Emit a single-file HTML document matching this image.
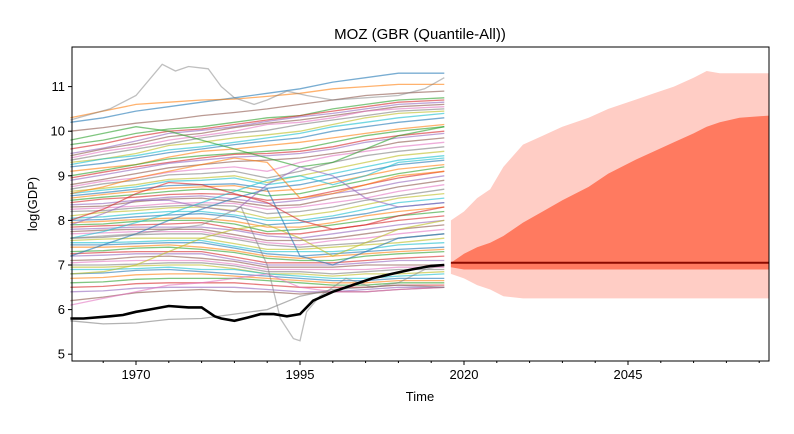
<!DOCTYPE html>
<html><head><meta charset="utf-8"><style>
body{margin:0;background:#fff;font-family:"Liberation Sans",sans-serif}
svg text{font-family:"Liberation Sans","DejaVu Sans",sans-serif}
</style></head><body>
<svg id="chart" width="794" height="429" xmlns="http://www.w3.org/2000/svg">
<rect width="794" height="429" fill="#fff"/>
<text x="420" y="39" font-size="15" text-anchor="middle">MOZ (GBR (Quantile-All))</text>
<g id="bg"></g>
<g id="fc"></g>
<g id="axes"></g>
<text x="420" y="401" font-size="13" text-anchor="middle">Time</text>
<text transform="translate(37,204) rotate(-90)" font-size="13" text-anchor="middle">log(GDP)</text>
</svg>
<script>
const histYears=[1960,1965,1970,1975,1980,1985,1990,1995,2000,2005,2010,2017];
const peerSeries=[
[10.2,10.3,10.45,10.55,10.65,10.75,10.85,10.95,11.1,11.2,11.3,11.3],
[10.3,10.45,10.6,10.65,10.7,10.72,10.78,10.85,10.95,11.0,11.05,11.05],
[9.7,9.8,9.95,10.05,10.1,10.2,10.3,10.35,10.5,10.6,10.7,10.75],
[9.6,9.72,9.88,10.0,10.05,10.15,10.25,10.35,10.45,10.55,10.65,10.7],
[9.5,9.62,9.78,9.95,10.02,10.1,10.22,10.32,10.4,10.5,10.6,10.65],
[9.45,9.6,9.72,9.88,9.95,10.08,10.18,10.25,10.35,10.45,10.55,10.6],
[9.4,9.55,9.65,9.8,9.9,10.0,10.15,10.2,10.3,10.45,10.5,10.55],
[9.35,9.48,9.6,9.72,9.85,9.95,10.02,10.15,10.25,10.35,10.45,10.5],
[9.3,9.38,9.5,9.68,9.75,9.85,9.92,10.0,10.15,10.3,10.4,10.45],
[9.25,9.38,9.45,9.58,9.65,9.75,9.85,9.95,10.1,10.2,10.3,10.4],
[9.2,9.28,9.4,9.52,9.6,9.7,9.78,9.85,10.0,10.1,10.2,10.3],
[9.1,9.18,9.25,9.42,9.55,9.6,9.68,9.75,9.85,9.95,10.05,10.15],
[9.0,9.12,9.25,9.38,9.45,9.5,9.55,9.6,9.75,9.9,10.0,10.1],
[8.95,9.08,9.2,9.3,9.4,9.48,9.5,9.55,9.65,9.8,9.9,10.0],
[8.9,9.02,9.15,9.28,9.35,9.42,9.45,9.5,9.6,9.75,9.85,9.95],
[8.8,8.92,9.05,9.18,9.25,9.32,9.35,9.4,9.5,9.6,9.75,9.85],
[8.75,8.88,8.95,9.08,9.15,9.2,9.1,9.3,9.45,9.55,9.65,9.75],
[8.7,8.82,8.9,9.02,9.05,9.1,8.95,9.1,9.3,9.45,9.55,9.65],
[8.65,8.72,8.8,8.92,8.95,9.0,8.85,9.0,9.15,9.3,9.45,9.55],
[8.6,8.68,8.75,8.88,8.9,8.95,8.8,8.9,9.05,9.2,9.35,9.45],
[8.55,8.62,8.7,8.78,8.8,8.82,8.72,8.8,8.95,9.1,9.25,9.35],
[8.5,8.58,8.65,8.72,8.75,8.78,8.65,8.7,8.85,9.0,9.15,9.25],
[8.45,8.52,8.58,8.65,8.7,8.68,8.55,8.6,8.75,8.9,9.05,9.2],
[8.4,8.48,8.52,8.58,8.6,8.58,8.45,8.5,8.65,8.8,8.95,9.1],
[8.35,8.38,8.45,8.52,8.55,8.48,8.38,8.45,8.6,8.7,8.85,9.0],
[8.3,8.32,8.42,8.48,8.5,8.42,8.32,8.35,8.5,8.6,8.75,8.9],
[8.25,8.28,8.32,8.38,8.4,8.38,8.25,8.3,8.4,8.5,8.65,8.8],
[8.2,8.22,8.28,8.32,8.35,8.32,8.15,8.2,8.3,8.45,8.55,8.7],
[8.1,8.18,8.22,8.28,8.3,8.22,8.05,8.1,8.2,8.35,8.5,8.6],
[8.05,8.08,8.15,8.2,8.2,8.12,8.0,8.0,8.1,8.25,8.4,8.5],
[8.0,8.02,8.08,8.12,8.15,8.08,7.9,7.95,8.05,8.15,8.3,8.4],
[7.95,7.98,8.02,8.05,8.05,7.98,7.85,7.85,7.95,8.1,8.2,8.3],
[7.9,7.92,7.98,8.0,8.0,7.92,7.75,7.8,7.9,8.0,8.1,8.2],
[7.85,7.88,7.9,7.92,7.95,7.82,7.7,7.7,7.8,7.9,8.0,8.1],
[7.8,7.82,7.85,7.85,7.85,7.78,7.65,7.6,7.7,7.8,7.9,8.0],
[7.75,7.78,7.8,7.8,7.8,7.68,7.55,7.55,7.6,7.7,7.8,7.9],
[7.7,7.72,7.75,7.75,7.75,7.62,7.5,7.45,7.55,7.6,7.7,7.8],
[7.6,7.62,7.68,7.7,7.7,7.58,7.45,7.4,7.45,7.5,7.6,7.7],
[7.55,7.58,7.6,7.6,7.6,7.48,7.35,7.35,7.4,7.45,7.5,7.6],
[7.5,7.5,7.52,7.55,7.55,7.42,7.3,7.3,7.3,7.35,7.45,7.5],
[7.45,7.45,7.48,7.5,7.5,7.38,7.25,7.2,7.25,7.3,7.35,7.4],
[7.4,7.4,7.42,7.45,7.4,7.32,7.2,7.15,7.2,7.25,7.3,7.35],
[7.3,7.32,7.38,7.4,7.35,7.28,7.15,7.1,7.1,7.2,7.25,7.3],
[7.25,7.28,7.3,7.3,7.3,7.18,7.05,7.05,7.05,7.1,7.15,7.2],
[7.2,7.22,7.25,7.25,7.25,7.12,7.0,7.0,7.0,7.05,7.1,7.1],
[7.1,7.12,7.18,7.2,7.15,7.08,6.95,6.95,6.95,7.0,7.0,7.0],
[7.05,7.08,7.1,7.1,7.1,7.02,6.9,6.9,6.9,6.9,6.95,6.95],
[7.0,7.0,7.02,7.05,7.05,6.98,6.85,6.85,6.8,6.85,6.9,6.9],
[6.95,6.95,6.98,7.0,7.0,6.92,6.8,6.8,6.75,6.8,6.8,6.85],
[6.9,6.9,6.92,6.95,6.9,6.9,6.8,6.75,6.7,6.7,6.75,6.8],
[6.8,6.82,6.88,6.9,6.85,6.8,6.75,6.7,6.65,6.65,6.7,6.7],
[6.7,6.72,6.78,6.8,6.8,6.75,6.7,6.65,6.6,6.6,6.65,6.65],
[6.6,6.62,6.68,6.7,6.7,6.7,6.65,6.6,6.55,6.55,6.6,6.6],
[6.5,6.52,6.58,6.6,6.6,6.6,6.55,6.5,6.5,6.5,6.55,6.55],
[6.4,6.42,6.48,6.5,6.5,6.5,6.45,6.4,6.4,6.45,6.5,6.5],
[6.2,6.28,6.38,6.42,6.45,6.4,6.4,6.35,6.4,6.4,6.45,6.5],
[6.1,6.25,6.4,6.55,6.6,6.7,6.8,6.5,6.4,6.4,6.45,6.5],
[5.75,5.68,5.7,5.78,5.8,5.9,6.0,6.3,6.45,6.5,6.55,6.5],
[6.8,6.85,7.0,7.3,7.6,7.8,7.9,7.6,7.2,7.5,7.8,8.0],
[7.6,7.75,7.95,8.15,8.4,8.65,8.9,9.0,8.8,9.0,9.3,9.4],
[7.2,7.45,7.7,8.0,8.25,8.5,8.7,7.2,7.0,7.3,7.6,7.7],
[8.6,8.75,8.95,9.1,9.25,9.4,9.3,8.5,8.6,8.8,9.0,9.1],
[9.8,9.95,10.1,10.0,9.8,9.6,9.4,9.2,9.3,9.6,9.9,10.1],
[8.0,8.25,8.6,8.85,8.8,8.6,8.4,8.0,7.8,7.9,8.1,8.3],
[7.9,8.15,8.45,8.45,8.3,8.2,8.8,9.2,9.0,8.5,8.3,8.4],
[10.0,10.08,10.18,10.25,10.35,10.42,10.5,10.6,10.7,10.8,10.85,10.9]
];
const grayHighYears=[1960,1966,1970,1974,1976,1978,1981,1983,1985,1988,1990,1993,1996,2000,2005,2010,2014,2017];
const grayHigh=[10.25,10.5,10.8,11.5,11.35,11.45,11.4,11.0,10.75,10.6,10.7,10.9,10.8,10.7,10.75,10.8,10.95,11.2];
const grayDipYears=[1960,1970,1980,1986,1990,1992,1994,1995,1996,1998,2002,2006,2010,2014,2017];
const grayDip=[7.6,7.7,7.9,8.3,7.0,5.8,5.35,5.3,5.95,6.3,6.7,6.5,6.6,6.9,7.0];
const mozYears=[1960,1962,1966,1968,1970,1972,1975,1978,1980,1982,1983,1985,1987,1989,1991,1993,1995,1997,2000,2003,2006,2009,2012,2015,2017];
const mozValues=[5.8,5.8,5.85,5.88,5.95,6.0,6.08,6.05,6.05,5.85,5.8,5.75,5.82,5.9,5.9,5.85,5.9,6.2,6.4,6.55,6.7,6.8,6.9,6.98,7.0];
const fcYears=[2018,2020,2022,2024,2026,2029,2032,2035,2039,2042,2046,2049,2052,2055,2057,2059,2062,2067];
const outerUpper=[8.0,8.2,8.5,8.7,9.2,9.7,9.9,10.1,10.3,10.5,10.7,10.85,11.0,11.2,11.35,11.3,11.3,11.3];
const outerLower=[6.8,6.7,6.55,6.45,6.3,6.25,6.25,6.25,6.25,6.25,6.25,6.25,6.25,6.25,6.25,6.25,6.25,6.25];
const innerUpper=[7.05,7.25,7.4,7.5,7.65,7.95,8.2,8.45,8.75,9.05,9.35,9.55,9.75,9.95,10.1,10.2,10.3,10.35];
const innerLower=[6.95,6.9,6.9,6.9,6.9,6.9,6.9,6.9,6.9,6.9,6.9,6.9,6.9,6.9,6.9,6.9,6.9,6.9];
const median=[7.05,7.05,7.05,7.05,7.05,7.05,7.05,7.05,7.05,7.05,7.05,7.05,7.05,7.05,7.05,7.05,7.05,7.05];
const yTicks=[5,6,7,8,9,10,11];
const xTicks=[1970,1995,2020,2045];
const colors=["#1f77b4","#ff7f0e","#2ca02c","#d62728","#9467bd","#8c564b","#e377c2","#7f7f7f","#bcbd22","#17becf"];
const NS="http://www.w3.org/2000/svg";
const L=72,R=769,T=47,B=361;
const xs=y=>Math.min(R,136+(y-1970)*6.56);
const ys=v=>265-(v-7)*44.6;
function mk(tag,attrs,parent){const e=document.createElementNS(NS,tag);for(const k in attrs)e.setAttribute(k,attrs[k]);parent.appendChild(e);return e;}
function pts(years,vals){return years.map((y,i)=>xs(y).toFixed(1)+","+ys(vals[i]).toFixed(1)).join(" ");}
const bg=document.getElementById("bg"),fc=document.getElementById("fc"),ax=document.getElementById("axes");
peerSeries.forEach((s,i)=>{
  const p=mk("polyline",{points:pts(histYears,s),fill:"none",stroke:colors[i%10],"stroke-width":1.3,"stroke-opacity":0.6},bg);
  
  
});
let g1=mk("polyline",{points:pts(grayHighYears,grayHigh),fill:"none",stroke:"#7f7f7f","stroke-width":1.3,"stroke-opacity":0.5},bg);


let g2=mk("polyline",{points:pts(grayDipYears,grayDip),fill:"none",stroke:"#7f7f7f","stroke-width":1.3,"stroke-opacity":0.5},bg);


let moz=mk("polyline",{points:pts(mozYears,mozValues),fill:"none",stroke:"#000","stroke-width":2.6},bg);


function band(up,lo,fill,name){
  const a=fcYears.map((y,i)=>xs(y).toFixed(1)+","+ys(up[i]).toFixed(1));
  const b=fcYears.map((y,i)=>xs(y).toFixed(1)+","+ys(lo[i]).toFixed(1)).reverse();
  const p=mk("polygon",{points:a.concat(b).join(" "),fill:fill},fc);
  
  
}
band(outerUpper,outerLower,"#ffcdc5","outer-quantile-band");
band(innerUpper,innerLower,"#ff7a60","inner-quantile-band");
let md=mk("polyline",{points:pts(fcYears,median),fill:"none",stroke:"#8b0a00","stroke-width":2},fc);


let fr=mk("rect",{x:L,y:T,width:R-L,height:B-T,fill:"none",stroke:"#000","stroke-width":1},ax);


yTicks.forEach(v=>{
  mk("line",{x1:L-4,x2:L,y1:ys(v),y2:ys(v),stroke:"#000"},ax);
  const t=mk("text",{x:L-7,y:ys(v)+4.5,"font-size":13,"text-anchor":"end"},ax);
  t.textContent=v;
  
  
});
for(let y=1965;y<=2065;y+=5){mk("line",{x1:xs(y),x2:xs(y),y1:B,y2:B+2,stroke:"#000"},ax);}
xTicks.forEach(y=>{
  mk("line",{x1:xs(y),x2:xs(y),y1:B,y2:B+4,stroke:"#000"},ax);
  const t=mk("text",{x:xs(y),y:B+18,"font-size":13,"text-anchor":"middle"},ax);
  t.textContent=y;
  
  
});
</script>
</body></html>
